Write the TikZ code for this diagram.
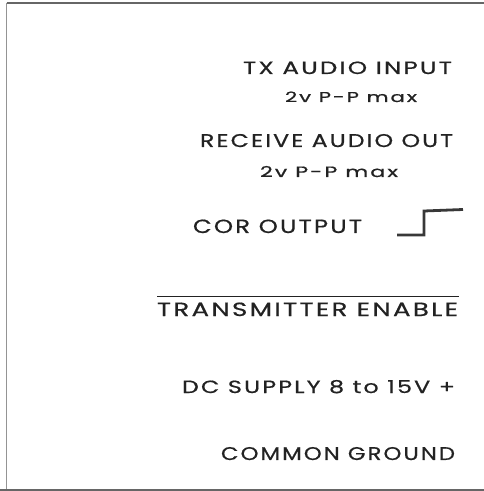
\documentclass[tikz,border=0pt]{standalone}
\usepackage{fontspec}
\usepackage{graphicx}
\setsansfont[LetterSpace=9,FakeBold=0.6]{Poppins}
\definecolor{ink}{HTML}{222222}
\definecolor{frame}{HTML}{666666}
\newcommand{\fitlabel}[3]{\resizebox{#1pt}{#2pt}{\sffamily #3}}
\tikzset{
  lbl/.style={anchor=base west, inner sep=0pt, outer sep=0pt, text=ink},
  frameline/.style={draw=frame, line width=1.1pt},
  wave/.style={draw=ink!90, line width=2.8pt, line join=miter}
}
\begin{document}
\begin{tikzpicture}[x=1pt,y=1pt]
\useasboundingbox (0,0) rectangle (484,491);
% frame
\coordinate (tl) at (6.5,488);
\coordinate (tr) at (484,488);
\coordinate (bl) at (6.5,1);
\coordinate (bl0) at (0,1);
\coordinate (br) at (484,1);
\draw[frameline] (tl) -- (tr);
\draw[frameline, draw=frame!70] (tl) -- (bl);
\draw[frameline] (bl0) -- (br);
% labels
\node[lbl] (tx) at (243,417) {\fitlabel{209}{12.5}{TX AUDIO INPUT}};
\node[lbl] (txv) at (285,389) {\fitlabel{132}{10.5}{2v P-P max}};
\node[lbl] (rx) at (200,344) {\fitlabel{253}{13}{RECEIVE AUDIO OUT}};
\node[lbl] (rxv) at (260,314) {\fitlabel{138}{11}{2v P-P max}};
\node[lbl] (cor) at (193,258) {\fitlabel{169}{13.5}{COR OUTPUT}};
\node[lbl] (te) at (157,175) {\fitlabel{301}{13.5}{TRANSMITTER ENABLE}};
\node[lbl] (dc) at (182,98) {\fitlabel{273}{13}{DC SUPPLY 8 to 15V +}};
\node[lbl] (gnd) at (221,31) {\fitlabel{234}{13}{COMMON GROUND}};
% overline for transmitter enable
\coordinate (ol1) at (157,194);
\coordinate (ol2) at (459,194);
\draw[draw=ink, line width=1pt] (ol1) -- (ol2);
% COR step symbol
\coordinate (s1) at (397,256);
\coordinate (s2) at (424,256);
\coordinate (s3) at (424,280);
\coordinate (s4) at (463,281.5);
\draw[wave] (s1) -- (s2) -- (s3) -- (s4);
\end{tikzpicture}
\end{document}
